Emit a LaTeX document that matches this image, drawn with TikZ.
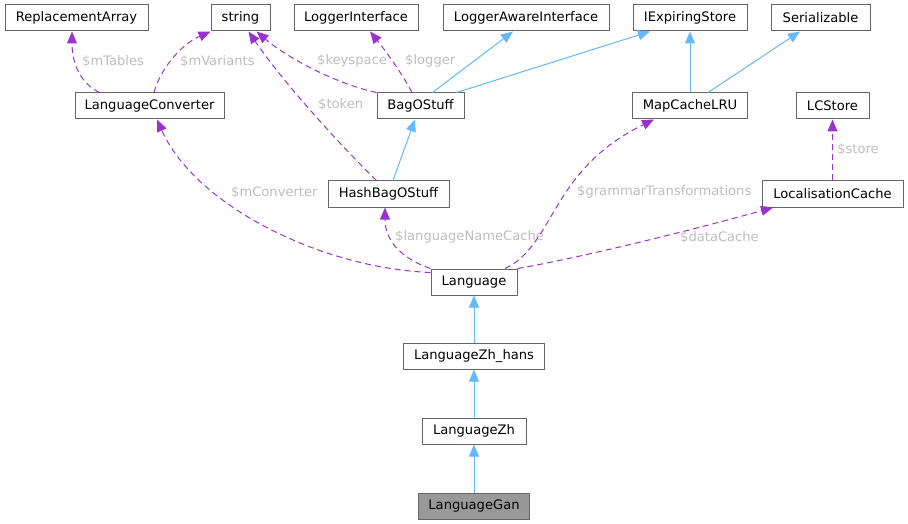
\documentclass[tikz,border=0pt]{standalone}
\usepackage{fontspec}
\setmainfont{DejaVu Sans}
\usetikzlibrary{arrows.meta,calc,positioning}
\definecolor{edgeblue}{HTML}{63B8FF}
\definecolor{edgepurple}{HTML}{9A32CD}
\definecolor{boxgray}{HTML}{666666}
\definecolor{labelgray}{HTML}{BDBDBD}
\definecolor{leafgray}{HTML}{999999}

\begin{document}
\begin{tikzpicture}[x=1pt,y=-1pt,
  font=\fontsize{13.1}{15}\selectfont,
  cls/.style={draw=boxgray,fill=white,line width=1pt,minimum height=26pt,inner sep=0pt},
  inherit/.style={edgeblue,line width=1pt,-{Triangle[length=12pt,width=10pt]}},
  usage/.style={edgepurple,line width=1pt,dash pattern=on 6pt off 4pt,-{Triangle[length=12pt,width=10pt]}},
  lbl/.style={text=labelgray,anchor=west,inner sep=0pt}]
\useasboundingbox (0,0) rectangle (908,524);
% top row
\node[cls,minimum width=143pt] (repl) at (76.5,18) {ReplacementArray};
\node[cls,minimum width=59pt] (str) at (240.5,18) {string};
\node[cls,minimum width=124pt] (logi) at (356,18) {LoggerInterface};
\node[cls,minimum width=166pt] (lai) at (526,18) {LoggerAwareInterface};
\node[cls,minimum width=114pt] (ies) at (690,18) {IExpiringStore};
\node[cls,minimum width=99pt] (ser) at (820.5,18) {Serializable};
% second row
\node[cls,minimum width=149pt] (conv) at (149.5,106) {LanguageConverter};
\node[cls,minimum width=87pt] (bag) at (420.5,106) {BagOStuff};
\node[cls,minimum width=115pt] (mclru) at (690,106) {MapCacheLRU};
\node[cls,minimum width=73pt] (lcs) at (832.5,106) {LCStore};
% third row
\node[cls,minimum width=121pt] (hbag) at (388.5,194) {HashBagOStuff};
\node[cls,minimum width=141pt] (lcache) at (832.5,194) {LocalisationCache};
% class chain
\node[cls,minimum width=86pt] (lang) at (474,282) {Language};
\node[cls,minimum width=141pt] (zhh) at (474,356) {LanguageZh\_hans};
\node[cls,minimum width=104pt] (zh) at (474,431) {LanguageZh};
\node[cls,minimum width=111pt,fill=leafgray] (gan) at (474,506) {LanguageGan};

% inheritance
\draw[inherit] (gan) -- (zh);
\draw[inherit] (zh) -- (zhh);
\draw[inherit] (zhh) -- (lang);
\draw[inherit] ([xshift=4.5pt]hbag.north) -- ([xshift=-5.5pt]bag.south);
\draw[inherit] ([xshift=12pt]bag.north) -- ([xshift=-13pt]lai.south);
\draw[inherit] ([xshift=36pt]bag.north) -- ([xshift=-40pt]ies.south);
\draw[inherit] (mclru) -- (ies);
\draw[inherit] ([xshift=18pt]mclru.north) -- ([xshift=-20.5pt]ser.south);

% members
\draw[usage] ([xshift=-50pt]conv.north) .. controls (78,82) and (72,60) .. ([xshift=-4.5pt]repl.south);
\node[lbl] (tTables) at (82,61) {\$mTables};
\draw[usage] ([xshift=4.5pt]conv.north) .. controls (160,70) and (180,45) .. ([xshift=-30pt]str.south);
\node[lbl] (tVariants) at (180,61) {\$mVariants};
\draw[usage] (bag.north west) .. controls (340,85) and (290,60) .. ([xshift=16pt]str.south);
\node[lbl] (tKeyspace) at (317,61) {\$keyspace};
\draw[usage] ([xshift=-8.5pt]bag.north) .. controls (403,75) and (385,50) .. ([xshift=14pt]logi.south);
\node[lbl] (tLogger) at (405,61) {\$logger};
\draw[usage] ([xshift=-12pt]hbag.north) .. controls (345,150) and (285,85) .. ([xshift=8pt]str.south);
\node[lbl] (tToken) at (318,104) {\$token};
\draw[usage] ([yshift=-4pt]lang.north west) .. controls (320,268) and (195,205) .. ([xshift=7.5pt]conv.south);
\node[lbl] (tConverter) at (231,192) {\$mConverter};
\draw[usage] (lang.north west) .. controls (400,258) and (385,240) .. ([xshift=-3.5pt]hbag.south);
\node[lbl] (tNameCache) at (395,237) {\$languageNameCache};
\draw[usage] ([xshift=31pt]lang.north) .. controls (555,245) and (550,170) .. ([xshift=-36pt]mclru.south);
\node[lbl] (tGrammar) at (577,192) {\$grammarTransformations};
\draw[usage] (lang.north east) .. controls (580,258) and (700,228) .. ([xshift=-59.5pt]lcache.south);
\node[lbl] (tDataCache) at (680,237) {\$dataCache};
\draw[usage] (lcache) -- (lcs);
\node[lbl] (tStore) at (837,149) {\$store};
\end{tikzpicture}
\end{document}
